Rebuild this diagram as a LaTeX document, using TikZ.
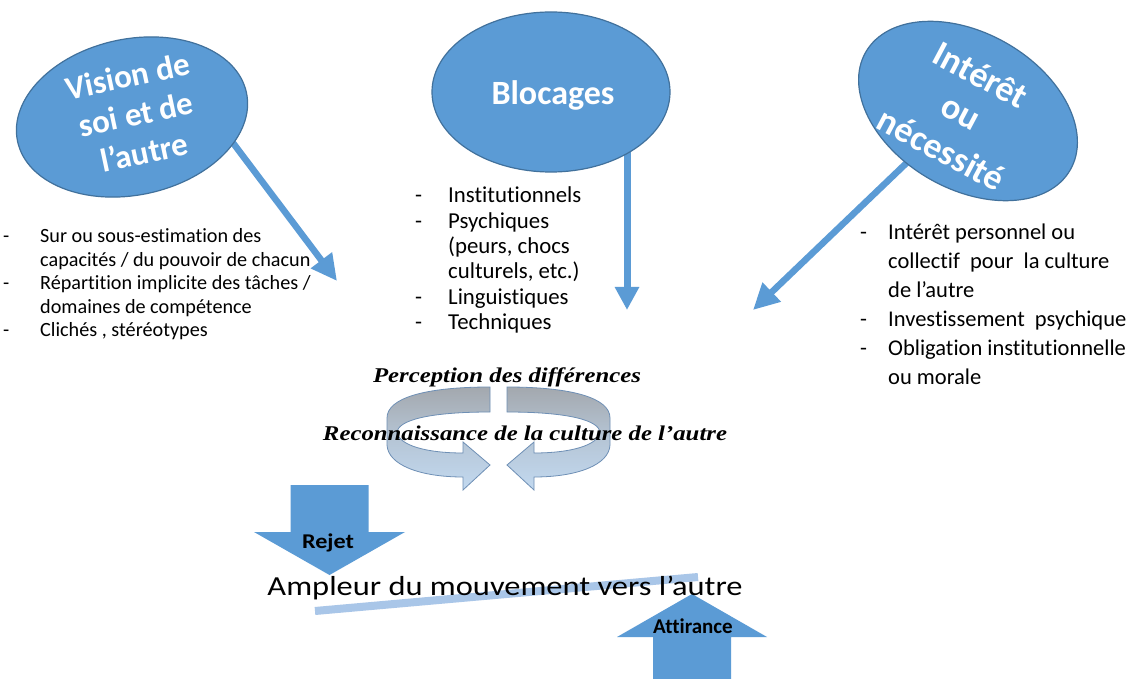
\documentclass[tikz,border=0pt]{standalone}
\usepackage{fontspec}
\setmainfont{Carlito}[Ligatures={NoCommon,NoRequired,NoContextual}]
\newfontfamily\tnr{Liberation Serif}
\usetikzlibrary{shapes.geometric,arrows.meta}
\definecolor{mblue}{HTML}{5B9BD5}
\definecolor{mborder}{HTML}{41719C}
\definecolor{lblue}{HTML}{A9C6E8}
\definecolor{ringedge}{HTML}{6E8FB5}
\definecolor{ringgray}{HTML}{A3A8AE}
\definecolor{ringblue}{HTML}{C2D9F0}
\begin{document}
\begin{tikzpicture}[x=1pt,y=-1pt,
  bubble/.style={ellipse,fill=mblue,draw=mborder,line width=1.2pt,inner sep=0pt},
  bubbletext/.style={text=white,font=\bfseries\fontsize{33}{39}\selectfont,align=center,inner sep=0pt},
  thinarrow/.style={draw=mblue,line width=6.5pt,-{Triangle[length=26pt,width=25pt]}},
  listtext/.style={inner sep=0pt,anchor=base west,text=black},
  ringarrow/.style={draw=ringedge,line width=0.8pt,top color=ringgray,bottom color=ringblue,middle color=ringgray!40!ringblue},
  blockarrow/.style={fill=mblue},
  serifbi/.style={inner sep=0pt,anchor=base,font=\tnr\bfseries\itshape\fontsize{21}{25}\selectfont}
]
\useasboundingbox (0,0) rectangle (1133,679);
\fill[white] (0,0) rectangle (1133,679);

% connectors (drawn first, ellipses on top)
\coordinate (vs) at (218,123);
\coordinate (vt) at (337,281);
\coordinate (bs) at (627,150);
\coordinate (bt) at (627,310);
\coordinate (is) at (918,152);
\coordinate (it) at (753,310);
\draw[thinarrow] (vs) -- (vt);
\draw[thinarrow,line width=7pt,-{Triangle[length=23pt,width=23pt]}] (bs) -- (bt);
\draw[thinarrow] (is) -- (it);

% ellipses
\node[bubble,minimum width=234pt,minimum height=156pt,rotate=12] (vision) at (132,117) {};
\node[bubbletext,rotate=12] (visiont) at (136,114) {Vision de\\soi et de\\l’autre};
\node[bubble,minimum width=238pt,minimum height=160pt] (bloc) at (551,92) {};
\node[bubbletext,anchor=base,font=\bfseries\fontsize{34}{40}\selectfont] (bloct) at (553,105) {Blocages};
\node[bubble,minimum width=236pt,minimum height=156pt,rotate=-30] (inter) at (968,111) {};
\node[bubbletext,rotate=-28,font=\bfseries\fontsize{36}{42}\selectfont] (intert) at (961,112) {Intérêt\\ou\\nécessité};

% lists
\node[listtext,font=\fontsize{20.2}{23.5}\selectfont] (listL) at (3,243) {%
\begin{tabular}[t]{@{}p{37pt}@{}l@{}}
- & Sur ou sous-estimation des\\
  & capacités / du pouvoir de chacun\\
- & Répartition implicite des tâches /\\
  & domaines de compétence\\
- & Clichés , stéréotypes
\end{tabular}};
\node[listtext,font=\fontsize{22.8}{25.3}\selectfont] (listM) at (415,203) {%
\begin{tabular}[t]{@{}p{33pt}@{}l@{}}
- & Institutionnels\\
- & Psychiques\\
  & (peurs, chocs\\
  & culturels, etc.)\\
- & Linguistiques\\
- & Techniques
\end{tabular}};
\node[listtext,font=\fontsize{22.5}{29}\selectfont] (listR) at (860,240) {%
\begin{tabular}[t]{@{}p{28pt}@{}l@{}}
- & Intérêt personnel ou\\
  & collectif\ \ pour\ \ la culture\\
  & de l’autre\\
- & Investissement\ \ psychique\\
- & Obligation institutionnelle\\
  & ou morale
\end{tabular}};

% circular arrows
\path[ringarrow] (490,387) .. controls (425,387) and (387,398) .. (387,418) -- (387,445)
  .. controls (388,465) and (420,477) .. (463,477) -- (463,490) -- (490,465) -- (463,442) -- (463,453)
  .. controls (425,453) and (400,445) .. (397,433) .. controls (397,420) and (430,412) .. (490,412) -- cycle;
\path[ringarrow] (507,387) .. controls (572,387) and (610,398) .. (610,418) -- (610,445)
  .. controls (609,465) and (577,477) .. (534,477) -- (534,490) -- (507,465) -- (534,442) -- (534,453)
  .. controls (572,453) and (597,445) .. (600,433) .. controls (600,420) and (567,412) .. (507,412) -- cycle;
\node[serifbi] (perc) at (507,382) {\scalebox{1.18}[1]{Perception des différences}};
\node[serifbi] (reco) at (525,440) {\scalebox{1.18}[1]{Reconnaissance de la culture de l’autre}};

% block arrows
\fill[blockarrow] (290.5,485) -- (368.5,485) -- (368.5,532) -- (405,532) -- (329.5,575) -- (254,532) -- (290.5,532) -- cycle;
\fill[blockarrow] (653,679) -- (731,679) -- (731,637) -- (767,637) -- (692,594) -- (617,637) -- (653,637) -- cycle;
\node[inner sep=0pt,anchor=base,font=\bfseries\fontsize{21}{25}\selectfont] (rejet) at (328,548) {\scalebox{1.15}[1]{Rejet}};
\node[inner sep=0pt,anchor=base,font=\bfseries\fontsize{21}{25}\selectfont] (attir) at (693,633) {Attirance};

% bar and central text
\draw[lblue,line width=8pt] (315,611) -- (698,577);
\node[inner sep=0pt,anchor=base,font=\fontsize{27.5}{33}\selectfont] (ampl) at (505,595) {\scalebox{1.18}[1]{Ampleur du mouvement vers l’autre}};
\end{tikzpicture}
\end{document}
